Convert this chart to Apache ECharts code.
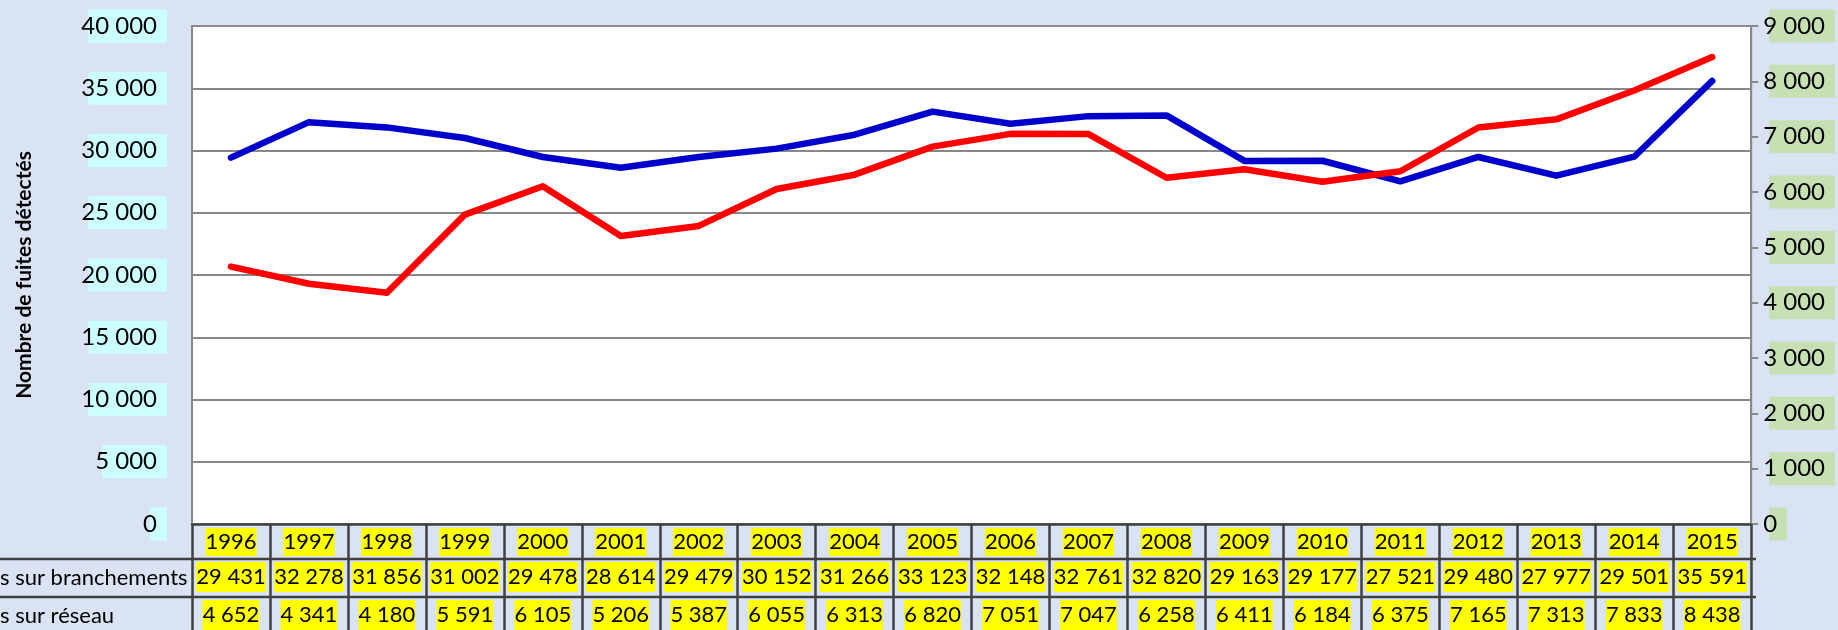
<!DOCTYPE html>
<html><head><meta charset="utf-8">
<script src="https://cdn.jsdelivr.net/npm/echarts@6/dist/echarts.min.js"></script>
<style>html,body{margin:0;padding:0;background:#dae3f3;overflow:hidden}#c{width:1838px;height:630px;}</style>
</head><body><div id="c"></div>
<script>
// ---- data ----
const years = ['1996','1997','1998','1999','2000','2001','2002','2003','2004','2005','2006','2007','2008','2009','2010','2011','2012','2013','2014','2015'];
const branchements = [29431,32278,31856,31002,29478,28614,29479,30152,31266,33123,32148,32761,32820,29163,29177,27521,29480,27977,29501,35591];
const reseau = [4652,4341,4180,5591,6105,5206,5387,6055,6313,6820,7051,7047,6258,6411,6184,6375,7165,7313,7833,8438];
const rowLabels = ['Fuites sur branchements','Fuites sur réseau'];
const leftAxisRange = [0, 40000, 5000];
const rightAxisRange = [0, 9000, 1000];
const yTitle = 'Nombre de fuites détectés';

// ---- layout / style ----
const W = 1838, H = 630;
const G = {left:192, right:83, top:26, bottom:105};
const FONT = 'Lato';
const bg = '#dae3f3', gridGray = '#898989', tableLine = '#404040';
const fmt = n => String(n).replace(/\B(?=(\d{3})+(?!\d))/g, ' ');

const chart = echarts.init(document.getElementById('c'), null, {renderer:'canvas'});

const tableTop = H - G.bottom;           // 525
const rowH = [34, 38, 38];
const rowY = [tableTop, tableTop+rowH[0], tableTop+rowH[0]+rowH[1]];
const plotRight = W - G.right;

// measure for row labels (cut off at left like reference)
const mc = document.createElement('canvas').getContext('2d');
mc.font = '22px ' + FONT;
const cutW = mc.measureText('Fuite').width;

const tableLabel = (bgc) => ({
  fontFamily: FONT, fontSize: 22, color: '#000', backgroundColor: bgc,
  lineHeight: 22, padding: [3,0,3,0]
});

const graphics = [];
[rowY[1], rowY[2]].forEach(y => {
  graphics.push({type:'line', silent:true, z:10,
    shape:{x1:0, y1:y, x2:plotRight+1, y2:y},
    style:{stroke:tableLine, lineWidth:2.5}});
});
rowLabels.forEach((t, i) => {
  graphics.push({type:'text', silent:true, z:10,
    x: -cutW, y: rowY[i+1] + rowH[i+1]/2,
    style:{text:t, fontFamily:FONT, fontSize:22, fill:'#000', textAlign:'left', textVerticalAlign:'middle'}});
});

const catAxisBase = {
  type:'category', data: years, boundaryGap:true, position:'bottom', gridIndex:0,
};

chart.setOption({
  backgroundColor: bg,
  animation:false,
  grid: {left:G.left, right:G.right, top:G.top, bottom:G.bottom, show:true,
         backgroundColor:'#ffffff', borderColor:gridGray, borderWidth:2},
  xAxis: [
    Object.assign({}, catAxisBase, {
      axisLine:{show:true, lineStyle:{color:tableLine, width:2.5}},
      axisTick:{show:true, interval:0, length:110, lineStyle:{color:tableLine, width:2.5}},
      axisLabel: Object.assign({interval:0, margin:4}, tableLabel('#ffff00')),
      splitLine:{show:false}
    }),
    Object.assign({}, catAxisBase, {
      offset: rowH[0],
      axisLine:{show:false}, axisTick:{show:false}, splitLine:{show:false},
      axisLabel: Object.assign({interval:0, margin:4,
        formatter:(v, i) => fmt(branchements[i])}, tableLabel('#ffff00'), {padding:[4,0,4,0]})
    }),
    Object.assign({}, catAxisBase, {
      offset: rowH[0]+rowH[1],
      axisLine:{show:false}, axisTick:{show:false}, splitLine:{show:false},
      axisLabel: Object.assign({interval:0, margin:4,
        formatter:(v, i) => fmt(reseau[i])}, tableLabel('#ffff00'), {padding:[4,0,4,0]})
    })
  ],
  yAxis: [
    {type:'value', position:'left', min:leftAxisRange[0], max:leftAxisRange[1], interval:leftAxisRange[2],
     name: yTitle, nameLocation:'middle', nameGap:157, nameRotate:90,
     nameTextStyle:{fontFamily:FONT, fontSize:21, fontWeight:'bold', color:'#000'},
     axisLine:{show:true, lineStyle:{color:gridGray, width:2}},
     axisTick:{show:false},
     splitLine:{show:true, lineStyle:{color:gridGray, width:2}},
     axisLabel:{fontFamily:FONT, fontSize:24, color:'#000', margin:25,
       formatter: v => fmt(v), backgroundColor:'#ccffff', lineHeight:25, padding:[4,10,4,-7]}},
    {type:'value', position:'right', min:rightAxisRange[0], max:rightAxisRange[1], interval:rightAxisRange[2],
     axisLine:{show:true, lineStyle:{color:gridGray, width:2}},
     axisTick:{show:true, inside:false, length:7, lineStyle:{color:gridGray, width:2}},
     splitLine:{show:false},
     axisLabel:{fontFamily:FONT, fontSize:24, color:'#000', margin:18,
       formatter: v => fmt(v), backgroundColor:'#c6e0b4', lineHeight:25, padding:[4,10,4,-6]}}
  ],
  series: [
    {type:'line', name:rowLabels[0], data:branchements, xAxisIndex:0, yAxisIndex:0,
     showSymbol:false, symbol:'none', lineStyle:{color:'#0000cc', width:6.5, cap:'round', join:'round'}, z:3},
    {type:'line', name:rowLabels[1], data:reseau, xAxisIndex:0, yAxisIndex:1,
     showSymbol:false, symbol:'none', lineStyle:{color:'#ff0000', width:6.5, cap:'round', join:'round'}, z:4}
  ],
  graphic: graphics
});
</script>
</body></html>
